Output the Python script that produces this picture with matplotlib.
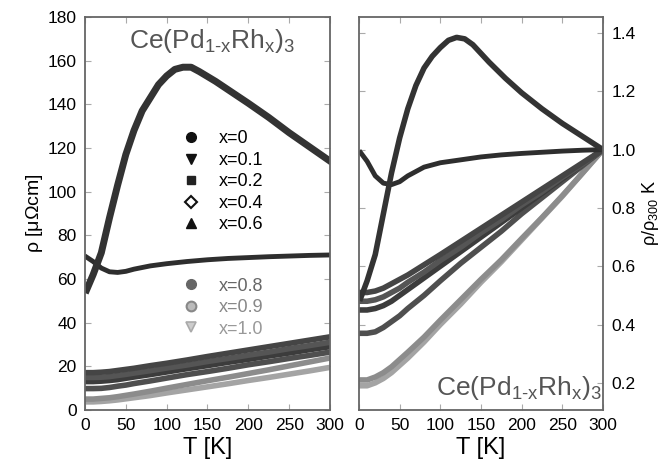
import matplotlib.pyplot as plt
from matplotlib.lines import Line2D

plt.rcParams['font.family'] = ['Liberation Sans', 'DejaVu Sans']
plt.rcParams['mathtext.fontset'] = 'custom'
plt.rcParams['mathtext.rm'] = 'Liberation Sans'
plt.rcParams['mathtext.it'] = 'Liberation Sans'

# ---- data ----
# x = 0 and x = 0.1 (left panel, rho in micro-ohm cm)
T_x0 = [2, 10, 20, 30, 40, 50, 60, 70, 80, 90, 100, 110, 120, 130, 140, 160, 180, 200, 225, 250, 275, 300]
rho_x0 = [55, 62, 72, 88, 103, 117, 128, 137, 143, 149, 153, 156, 157, 157, 155, 150.5, 145.5, 140.5, 134, 127,
          120.5, 114]
norm_x0 = [0.49, 0.55, 0.64, 0.78, 0.92, 1.04, 1.14, 1.22, 1.28, 1.32, 1.35, 1.375, 1.385, 1.38, 1.36, 1.30,
           1.245, 1.195, 1.14, 1.09, 1.045, 1.0]

T_x01 = [2, 10, 20, 30, 40, 50, 60, 80, 100, 125, 150, 175, 200, 225, 250, 275, 300]
rho_x01 = [70, 68, 65, 63.3, 63, 63.5, 64.5, 66, 67, 68, 68.8, 69.4, 69.8, 70.2, 70.5, 70.8, 71]
norm_x01 = [0.99, 0.96, 0.91, 0.885, 0.88, 0.89, 0.91, 0.94, 0.955, 0.965, 0.975, 0.982, 0.987, 0.991, 0.995,
            0.998, 1.0]

# higher Rh content
T_lo = [2, 10, 20, 30, 40, 50, 60, 80, 100, 125, 150, 175, 200, 225, 250, 275, 300]
rho_x02 = [13.0, 13.0, 13.2, 13.5, 13.9, 14.5, 15.1, 16.2, 17.4, 18.9, 20.3, 21.8, 23.2, 24.7, 26.1, 27.6, 29.0]
rho_x04 = [14.9, 14.9, 15.0, 15.3, 15.8, 16.3, 16.9, 18.0, 19.2, 20.6, 22.2, 23.6, 25.1, 26.5, 28.1, 29.5, 31.0]
rho_x06 = [17.1, 17.1, 17.3, 17.6, 18.1, 18.6, 19.1, 20.3, 21.4, 22.9, 24.5, 26.0, 27.5, 29.0, 30.5, 32.0, 33.5]
rho_x08 = [9.8, 9.8, 9.9, 10.3, 10.9, 11.4, 12.1, 13.3, 14.6, 16.2, 17.6, 19.1, 20.7, 22.1, 23.6, 25.0, 26.5]
rho_x09 = [5.0, 5.0, 5.3, 5.6, 6.1, 6.7, 7.3, 8.6, 10.0, 11.7, 13.4, 15.0, 16.7, 18.4, 20.2, 22.0, 23.8]
rho_x10 = [3.7, 3.7, 3.9, 4.2, 4.6, 5.1, 5.6, 6.6, 7.8, 9.2, 10.6, 12.0, 13.5, 14.9, 16.4, 17.9, 19.5]

norm_x02 = [0.45, 0.45, 0.455, 0.465, 0.48, 0.50, 0.52, 0.56, 0.60, 0.65, 0.70, 0.75, 0.80, 0.85, 0.90, 0.95, 1.0]
norm_x04 = [0.48, 0.48, 0.485, 0.495, 0.51, 0.525, 0.545, 0.58, 0.62, 0.665, 0.715, 0.76, 0.81, 0.855, 0.905, 0.95, 1.0]
norm_x06 = [0.51, 0.51, 0.515, 0.525, 0.54, 0.555, 0.57, 0.605, 0.64, 0.685, 0.73, 0.775, 0.82, 0.865, 0.91, 0.955, 1.0]
norm_x08 = [0.37, 0.37, 0.375, 0.39, 0.41, 0.43, 0.455, 0.50, 0.55, 0.61, 0.665, 0.72, 0.78, 0.835, 0.89, 0.945, 1.0]
norm_x09 = [0.21, 0.21, 0.22, 0.235, 0.255, 0.28, 0.305, 0.357, 0.415, 0.485, 0.555, 0.622, 0.695, 0.767, 0.842, 0.92, 1.0]
norm_x10 = [0.19, 0.19, 0.20, 0.215, 0.235, 0.26, 0.285, 0.34, 0.40, 0.47, 0.545, 0.615, 0.69, 0.765, 0.84, 0.92, 1.0]

labels_a = ['x=0', 'x=0.1', 'x=0.2', 'x=0.4', 'x=0.6']
labels_b = ['x=0.8', 'x=0.9', 'x=1.0']
xticks = [0, 50, 100, 150, 200, 250, 300]

c = {'x0': '#333333', 'x01': '#2e2e2e', 'x02': '#3c3c3c', 'x04': '#555555', 'x06': '#454545',
     'x08': '#4f4f4f', 'x09': '#8c8c8c', 'x10': '#a4a4a4'}

title = r'Ce(Pd$_{\mathregular{1\text{-}x}}$Rh$_{\mathregular{x}}$)$_{\mathregular{3}}$'

fig = plt.figure(figsize=(6.67, 4.72), dpi=100)
ax1 = fig.add_axes([0.1274, 0.1314, 0.3673, 0.8326])
ax2 = fig.add_axes([0.5382, 0.1314, 0.3658, 0.8326])

lw = 4
ax1.plot(T_lo, rho_x10, color=c['x10'], lw=lw)
ax1.plot(T_lo, rho_x09, color=c['x09'], lw=lw)
ax1.plot(T_lo, rho_x08, color=c['x08'], lw=lw)
ax1.plot(T_lo, rho_x02, color=c['x02'], lw=lw)
ax1.plot(T_lo, rho_x04, color=c['x04'], lw=lw)
ax1.plot(T_lo, rho_x06, color=c['x06'], lw=lw)
ax1.plot(T_x01, rho_x01, color=c['x01'], lw=3.5)
ax1.plot(T_x0, rho_x0, color=c['x0'], lw=5)

ax2.plot(T_lo, norm_x10, color=c['x10'], lw=lw)
ax2.plot(T_lo, norm_x09, color=c['x09'], lw=lw)
ax2.plot(T_lo, norm_x08, color=c['x08'], lw=lw)
ax2.plot(T_lo, norm_x02, color=c['x02'], lw=lw)
ax2.plot(T_lo, norm_x04, color=c['x04'], lw=lw)
ax2.plot(T_lo, norm_x06, color=c['x06'], lw=lw)
ax2.plot(T_x01, norm_x01, color=c['x01'], lw=3.5)
ax2.plot(T_x0, norm_x0, color=c['x0'], lw=4)

for ax in (ax1, ax2):
    ax.set_xlim(0, 300)
    ax.set_xticks(xticks)
    ax.tick_params(direction='in', length=4, color='#aaaaaa', labelsize=12.5, top=True, right=True, pad=6)
    for s in ax.spines.values():
        s.set_color('#666666')
        s.set_linewidth(1.3)
    ax.set_xlabel('T [K]', fontsize=17, labelpad=3)

ax1.set_ylim(0, 180)
ax1.set_yticks(range(0, 181, 20))
ax1.set_ylabel(r'$\mathregular{\rho}$ [$\mathregular{\mu\Omega}$cm]', fontsize=14, labelpad=2)

ax2.set_ylim(0.107, 1.455)
ax2.set_yticks([0.2, 0.4, 0.6, 0.8, 1.0, 1.2, 1.4])
ax2.set_yticklabels(['0.2', '0.4', '0.6', '0.8', '1.0', '1.2', '1.4'])
ax2.yaxis.tick_right()
ax2.tick_params(left=True, labelleft=False, labelright=True)
ax2.yaxis.set_label_position('right')
ax2.set_ylabel(r'$\mathregular{\rho/\rho_{300}}$ K', fontsize=13, labelpad=3)

ax1.text(0.52, 0.94, title, transform=ax1.transAxes, ha='center', va='center', fontsize=19, color='#555555')
ax2.text(0.995, 0.055, title, transform=ax2.transAxes, ha='right', va='center', fontsize=19, color='#555555')

h_a = [Line2D([], [], ls='none', marker='o', color='#111111', ms=7),
       Line2D([], [], ls='none', marker='v', color='#111111', ms=7),
       Line2D([], [], ls='none', marker='s', color='#222222', ms=6),
       Line2D([], [], ls='none', marker='D', mfc='white', mec='#111111', mew=1.5, ms=6),
       Line2D([], [], ls='none', marker='^', color='#111111', ms=7)]
h_b = [Line2D([], [], ls='none', marker='o', color='#666666', ms=7),
       Line2D([], [], ls='none', marker='o', mfc='#bbbbbb', mec='#888888', mew=1.5, ms=7),
       Line2D([], [], ls='none', marker='v', mfc='#cccccc', mec='#aaaaaa', mew=1.2, ms=7)]

leg1 = ax1.legend(h_a, labels_a, loc='upper left', bbox_to_anchor=(0.36, 0.73), frameon=False,
                  fontsize=13, handletextpad=0.9, labelspacing=0.25, borderaxespad=0, handlelength=1.2)
ax1.add_artist(leg1)
ax1.legend(h_b, labels_b, loc='upper left', bbox_to_anchor=(0.36, 0.355), frameon=False,
           fontsize=13, handletextpad=0.9, labelspacing=0.25, borderaxespad=0, handlelength=1.2,
           labelcolor=['#666666', '#888888', '#999999'])

fig.savefig('out.png', dpi=100)
